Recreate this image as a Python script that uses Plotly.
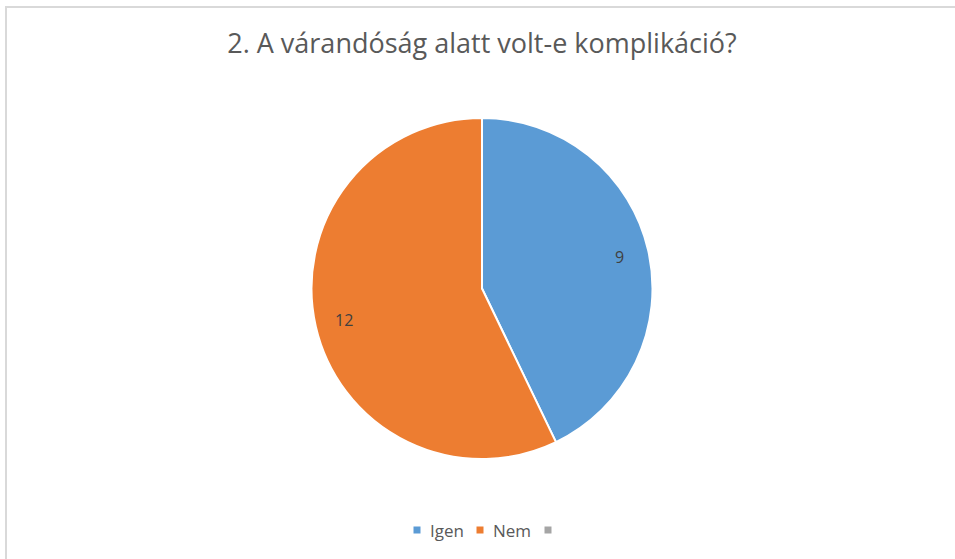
import math
import plotly.graph_objects as go

labels = ["Igen", "Nem", " "]
values = [9, 12, 0]
colors = ["#5B9BD5", "#ED7D31", "#A5A5A5"]
title_text = "2. A várandóság alatt volt-e komplikáció?"

W, H = 955, 559
cx, cy, r = 482, 288.5, 170.5

fig = go.Figure(go.Pie(
    labels=labels, values=values, sort=False, direction="clockwise", rotation=0,
    marker=dict(colors=colors, line=dict(color="white", width=2)),
    textinfo="none",
    domain=dict(x=[(cx - 400) / W, (cx + 400) / W], y=[(H - cy - r) / H, (H - cy + r) / H]),
    showlegend=False, hoverinfo="label+value",
))

annotations = []
# data labels near the middle angle of each slice
total = sum(values)
cum = 0
for lab, v in zip(labels, values):
    if v > 0:
        mid = (cum + v / 2) / total * 2 * math.pi
        rr = 0.83 * r
        x = cx + rr * math.sin(mid)
        y = cy - rr * math.cos(mid)
        annotations.append(dict(text=str(v), x=x / W, y=1 - y / H, xref="paper", yref="paper",
                                showarrow=False, xanchor="center", yanchor="middle",
                                font=dict(family="Open Sans", size=16, color="#404040")))
    cum += v

# custom legend
shapes = [dict(type="rect", xref="paper", yref="paper", x0=6 / W, x1=1.02, y0=-0.02, y1=1 - 7 / H,
               line=dict(color="#D9D9D9", width=2), fillcolor="rgba(0,0,0,0)", layer="below")]
leg_x = [417, 480, 548]
leg_y = 530
for lx, lab, col in zip(leg_x, labels, colors):
    shapes.append(dict(type="rect", xref="paper", yref="paper",
                       x0=(lx - 3.5) / W, x1=(lx + 3.5) / W, y0=1 - (leg_y + 3.5) / H, y1=1 - (leg_y - 3.5) / H,
                       line=dict(width=0), fillcolor=col))
    if lab.strip():
        annotations.append(dict(text=lab, x=(lx + 11) / W, y=1 - leg_y / H, xref="paper", yref="paper",
                                showarrow=False, xanchor="left", yanchor="middle",
                                font=dict(family="Open Sans", size=17, color="#595959")))

fig.update_layout(
    width=W, height=H, margin=dict(l=0, r=0, t=0, b=0),
    paper_bgcolor="white", plot_bgcolor="white",
    title=dict(text=title_text, x=cx / W, xanchor="center", y=1 - 44 / H, yanchor="middle",
               font=dict(family="Open Sans", size=27, color="#595959")),
    shapes=shapes, annotations=annotations,
)

fig.write_html("out.html", config={"displayModeBar": False},
               post_script="document.body.style.margin='0';document.body.style.overflow='hidden';")
